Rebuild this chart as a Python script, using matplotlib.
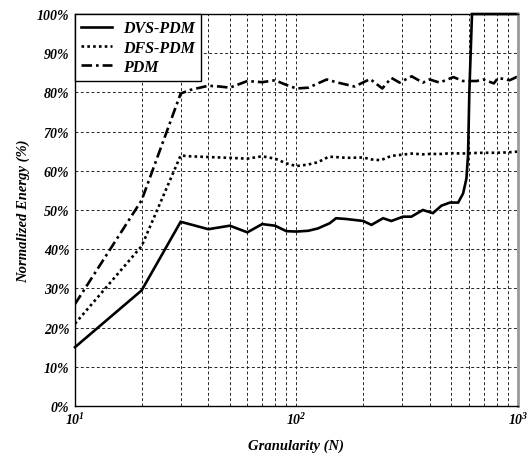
import matplotlib
matplotlib.use("Agg")
import matplotlib.pyplot as plt
from matplotlib.ticker import FixedLocator, NullFormatter

plt.rcParams['font.family'] = ['Liberation Serif', 'DejaVu Serif']
plt.rcParams['font.weight'] = 'bold'
plt.rcParams['font.style'] = 'italic'
plt.rcParams['mathtext.fontset'] = 'custom'
plt.rcParams['mathtext.it'] = 'Liberation Serif:italic:bold'
plt.rcParams['mathtext.rm'] = 'Liberation Serif:italic:bold'
plt.rcParams['mathtext.bf'] = 'Liberation Serif:italic:bold'
plt.rcParams['mathtext.default'] = 'it'

# energy normalized to the baseline, in percent
dvs_x = [10, 20, 30, 40, 50, 60, 70, 80, 90, 100, 113, 125, 141, 151, 168,
         200, 218, 246, 268, 303, 330, 372, 413, 451, 493, 537, 565, 585,
         595, 603, 620, 1000]
dvs_y = [15, 29.5, 47, 45.1, 46, 44.3, 46.4, 46, 44.6, 44.5, 44.7, 45.3,
         46.6, 47.9, 47.7, 47.2, 46.2, 47.9, 47.2, 48.3, 48.3, 50, 49.2,
         51.1, 51.9, 51.9, 54.2, 58, 64, 80, 100, 100]

dfs_x = [10, 20, 30, 33, 45, 50, 60, 70, 80, 90, 100, 113, 125, 140, 151,
         168, 200, 218, 240, 268, 300, 330, 372, 400, 450, 500, 560, 600,
         700, 800, 900, 1000]
dfs_y = [21, 40.8, 63.9, 63.7, 63.4, 63.3, 63.1, 63.7, 63.1, 61.9, 61.2,
         61.6, 62.2, 63.6, 63.5, 63.3, 63.4, 62.9, 62.7, 63.8, 64.1, 64.4,
         64.2, 64.3, 64.3, 64.5, 64.4, 64.5, 64.6, 64.6, 64.7, 64.9]

pdm_x = [10, 20, 30, 33, 40, 45, 50, 60, 70, 80, 90, 100, 113, 137, 151,
         183, 215, 244, 268, 292, 331, 372, 399, 443, 511, 565, 650, 696,
         778, 813, 917, 984, 1000]
pdm_y = [26, 52.5, 79.7, 80.6, 81.7, 81.5, 81.2, 82.9, 82.6, 83.1, 81.9,
         81, 81.2, 83.3, 82.6, 81.5, 83.4, 81, 83.7, 82.5, 84.1, 82.5, 83.3,
         82.5, 83.9, 82.9, 82.9, 83.3, 82.3, 83.7, 83.1, 83.9, 83.8]

y_ticks = list(range(0, 101, 10))
y_labels = [str(v) + "%" for v in y_ticks]

fig = plt.figure(figsize=(5.31, 4.60), dpi=100)
ax = fig.add_axes([0.1412, 0.1152, 0.8343, 0.8522])

ax.plot(dvs_x, dvs_y, "k-", lw=1.9, label="DVS-PDM", clip_on=False,
        solid_joinstyle="miter")
ax.plot(dfs_x, dfs_y, color="k", ls=(0, (1, 1.2)), lw=1.9, label="DFS-PDM")
ax.plot(pdm_x, pdm_y, color="k", ls=(0, (4, 1.5, 1, 1.5)), lw=1.9,
        label="PDM")

ax.set_xscale("log")
ax.set_xlim(10, 1000)
ax.set_ylim(0, 100)

ax.set_xticks([10, 100, 1000], [r"$10^{1}$", r"$10^{2}$", r"$10^{3}$"])
minors = [m * d for d in (10, 100) for m in range(2, 10)]
ax.xaxis.set_minor_locator(FixedLocator(minors))
ax.xaxis.set_minor_formatter(NullFormatter())
ax.set_yticks(y_ticks, y_labels)

ax.grid(True, which="both", axis="x", color="0.15", ls=(0, (3, 2.5)), lw=0.7)
ax.grid(True, which="major", axis="y", color="0.15", ls=(0, (3, 2.5)), lw=0.7)
ax.tick_params(which="both", length=0, labelsize=10, pad=4)
for lbl in ax.get_xticklabels() + ax.get_yticklabels():
    lbl.set_fontweight("bold")

for s in ("left", "bottom", "top"):
    ax.spines[s].set_linewidth(1.0)
ax.spines["right"].set_color("0.6")
ax.spines["right"].set_linewidth(2.0)

ax.set_xlabel("Granularity (N)", fontsize=10.5, fontweight="bold",
              style="italic", labelpad=8)
ax.set_ylabel("Normalized Energy (%)", fontsize=10.5, fontweight="bold",
              style="italic", labelpad=5)

leg = ax.legend(loc="upper left", borderaxespad=0, fancybox=False,
                framealpha=1, edgecolor="k",
                prop={"size": 11.5, "weight": "bold", "style": "italic"},
                handlelength=1.9, handletextpad=0.7, labelspacing=0.2,
                borderpad=0.4)
leg.get_frame().set_linewidth(1.0)

fig.savefig("out.png", dpi=100)
